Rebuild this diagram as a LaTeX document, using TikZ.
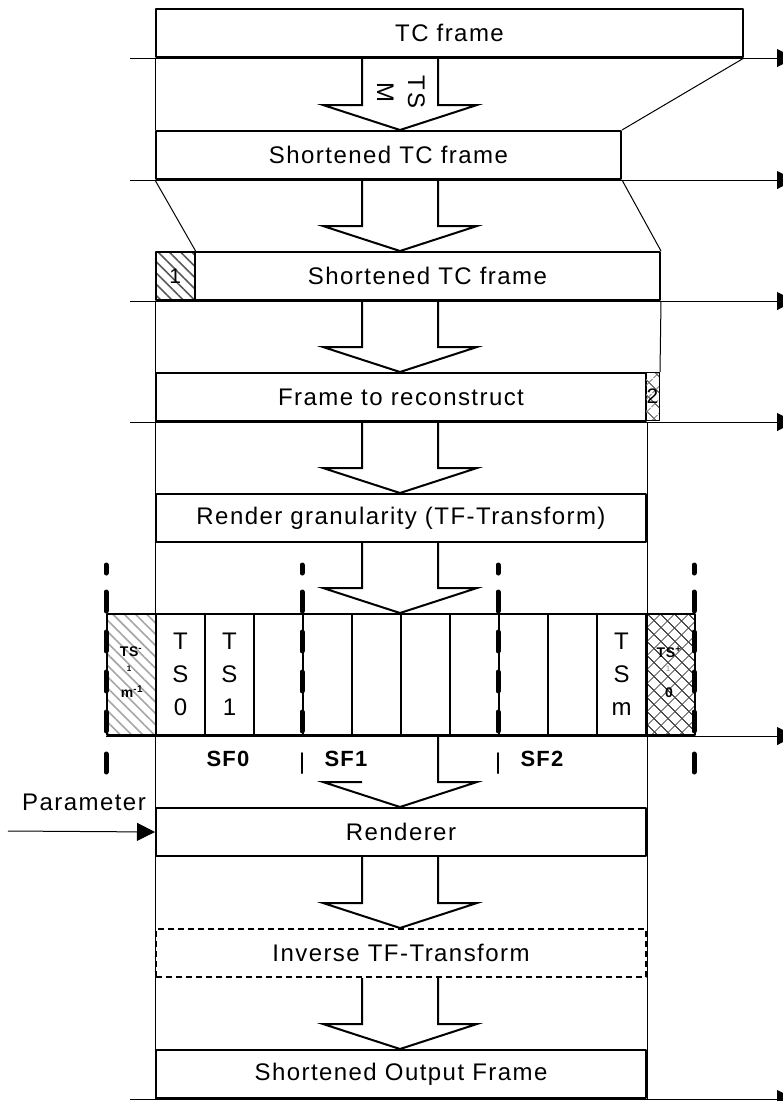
\documentclass[tikz,border=0pt]{standalone}
\usepackage{fontspec}
\setmainfont{Liberation Sans}[LetterSpace=6]
\usetikzlibrary{arrows.meta,calc,patterns.meta}

\tikzset{
  frame/.style={draw, line width=2pt, anchor=north west, inner sep=0pt,
    minimum height=48pt, font=\fontsize{24}{30}\selectfont},
  cell/.style={draw, line width=2pt, anchor=north west, inner sep=0pt,
    minimum width=49pt, minimum height=121pt},
  guide/.style={line width=1pt},
  flowline/.style={line width=1pt, -{Triangle[length=18pt,width=18pt]}},
  bigarrow/.style={line width=2pt, line join=miter},
  sfmark/.style={line width=5pt, line cap=round},
  sflabel/.style={font=\fontsize{22}{26}\selectfont\bfseries},
  slotlabel/.style={align=center, font=\fontsize{24}{33}\selectfont},
  edgelabel/.style={inner sep=0pt, font=\fontsize{14}{15}\selectfont\bfseries},
  stripes/.style={pattern={Lines[angle=-45,distance=8pt,line width=1.6pt]}},
  diamonds/.style={pattern={Hatch[angle=45,distance=10.5pt,line width=1pt]}}
}

\begin{document}
\begin{tikzpicture}[x=1pt, y=-1pt, line join=round]
	\useasboundingbox (0,0) rectangle (783,1101);
	\coordinate (mid) at (400,0);
	\coordinate (lft) at (130,0);
	\coordinate (rim) at (795,0);

	% frames
	\node[frame, minimum width=587pt] (tc) at (155,8) {TC frame};
	\node[frame, minimum width=465pt] (stc1) at (155,130) {Shortened TC frame};
	\node[frame, minimum width=39pt, stripes, pattern color=black!65,
	  font=\fontsize{21}{24}\selectfont] (h1) at (155,251) {1};
	\node[frame, minimum width=465pt] (stc2) at (194,251) {Shortened TC frame};
	\node[frame, minimum width=490pt] (recon) at (155,372) {Frame to reconstruct};
	\node[frame, minimum width=14pt, line width=1.2pt, diamonds, pattern color=black!55,
	  font=\fontsize{21}{24}\selectfont] (h2) at (645,372) {2};
	\node[frame, minimum width=490pt] (gran) at (155,493) {Render granularity (TF-Transform)};
	\node[frame, minimum width=490pt] (rend) at (155,807) {Renderer};
	\node[frame, minimum width=490pt, dash pattern=on 6pt off 4pt] (inv) at (155,928) {Inverse TF-Transform};
	\node[frame, minimum width=490pt] (out) at (155,1049) {Shortened Output Frame};

	% time slots
	\foreach \i in {0,...,9}
	  \node[cell] (c\i) at (155+49*\i,613) {};
	\node[cell, stripes, pattern color=black!35] (pre) at (106,613) {};
	\node[cell, diamonds, pattern color=black!70] (post) at (645,613) {};
	\node[slotlabel] (ts0) at (c0) {T\\S\\0};
	\node[slotlabel] (ts1) at (c1) {T\\S\\1};
	\node[slotlabel] (tsm) at (c9) {T\\S\\m};
	\node[edgelabel] (pre a) at (131,652) {TS\textsuperscript{-}};
	\node[edgelabel, font=\fontsize{8}{9}\selectfont\bfseries] (pre b) at (129,669) {1};
	\node[edgelabel] (pre c) at (132,692) {m\textsuperscript{-1}};
	\node[edgelabel] (post a) at (669,652) {TS\textsuperscript{+}};
	\node[edgelabel, font=\fontsize{8}{9}\selectfont, text=black!45] (post b) at (668,669) {1};
	\node[edgelabel] (post c) at (669,693) {0};

	% sub-frame borders
	\foreach \x in {106,302,498,694}
	  \foreach \a/\b in {565/573,592/611,632/651,672/691,712/731}
	    \draw[sfmark] (\x,\a) -- (\x,\b);
	\foreach \x in {106,694}
	  \draw[sfmark] (\x,754) -- (\x,772);
	\foreach \x in {302,498}
	  \draw[sfmark, line width=2pt] (\x,753) -- (\x,773);
	\node[sflabel] (sf0) at (228,759) {SF0};
	\node[sflabel] (sf1) at (346,759) {SF1};
	\node[sflabel] (sf2) at (542,759) {SF2};

	% outline lines
	\draw[guide] (tc.south west) -- (stc1.north west);
	\draw[guide] (h1.south west) -- (out.south west);
	\draw[guide] (stc2.south east) -- (h2.north east);
	\draw[guide] (recon.south east) -- (out.south east);
	\draw[guide] (tc.south east) -- (stc1.north east);
	\draw[guide] (stc1.south west) -- (h1.north east);
	\draw[guide] (stc1.south east) -- (stc2.north east);
	\foreach \n in {tc,stc1,stc2,recon,out}
	  \draw[flowline] (\n.south -| lft) -- (\n.south -| rim);
	\draw[flowline] (pre.south west) -- (pre.south -| rim);

	% processing arrows
	\foreach \a/\b in {tc/stc1,stc1/stc2,stc2/recon,recon/gran,gran/c4,rend/inv,inv/out}
	  \draw[bigarrow] ($(mid |- \a.south)+(-38,0)$) -- ($(mid |- \b.north)+(-38,-25)$)
	    -- ++(-39,0) -- (mid |- \b.north) -- ++(77,-25) -- ++(-39,0)
	    -- ($(mid |- \a.south)+(38,0)$);
	\draw[bigarrow] ($(mid |- rend.north)+(-38,-25)$) -- ++(-39,0) -- (mid |- rend.north)
	  -- ++(77,-25) -- ++(-39,0) -- ($(mid |- c5.south)+(38,0)$);
	\node[rotate=-90, align=center, font=\fontsize{24}{31}\selectfont] (tsM) at (401,92) {TS\\M};

	% parameter input
	\coordinate (psrc) at (8,831);
	\node[anchor=base east, inner sep=0pt, font=\fontsize{24}{30}\selectfont] (param) at (146,810) {Parameter};
	\draw[flowline] (psrc) -- (rend.west);
\end{tikzpicture}
\end{document}
